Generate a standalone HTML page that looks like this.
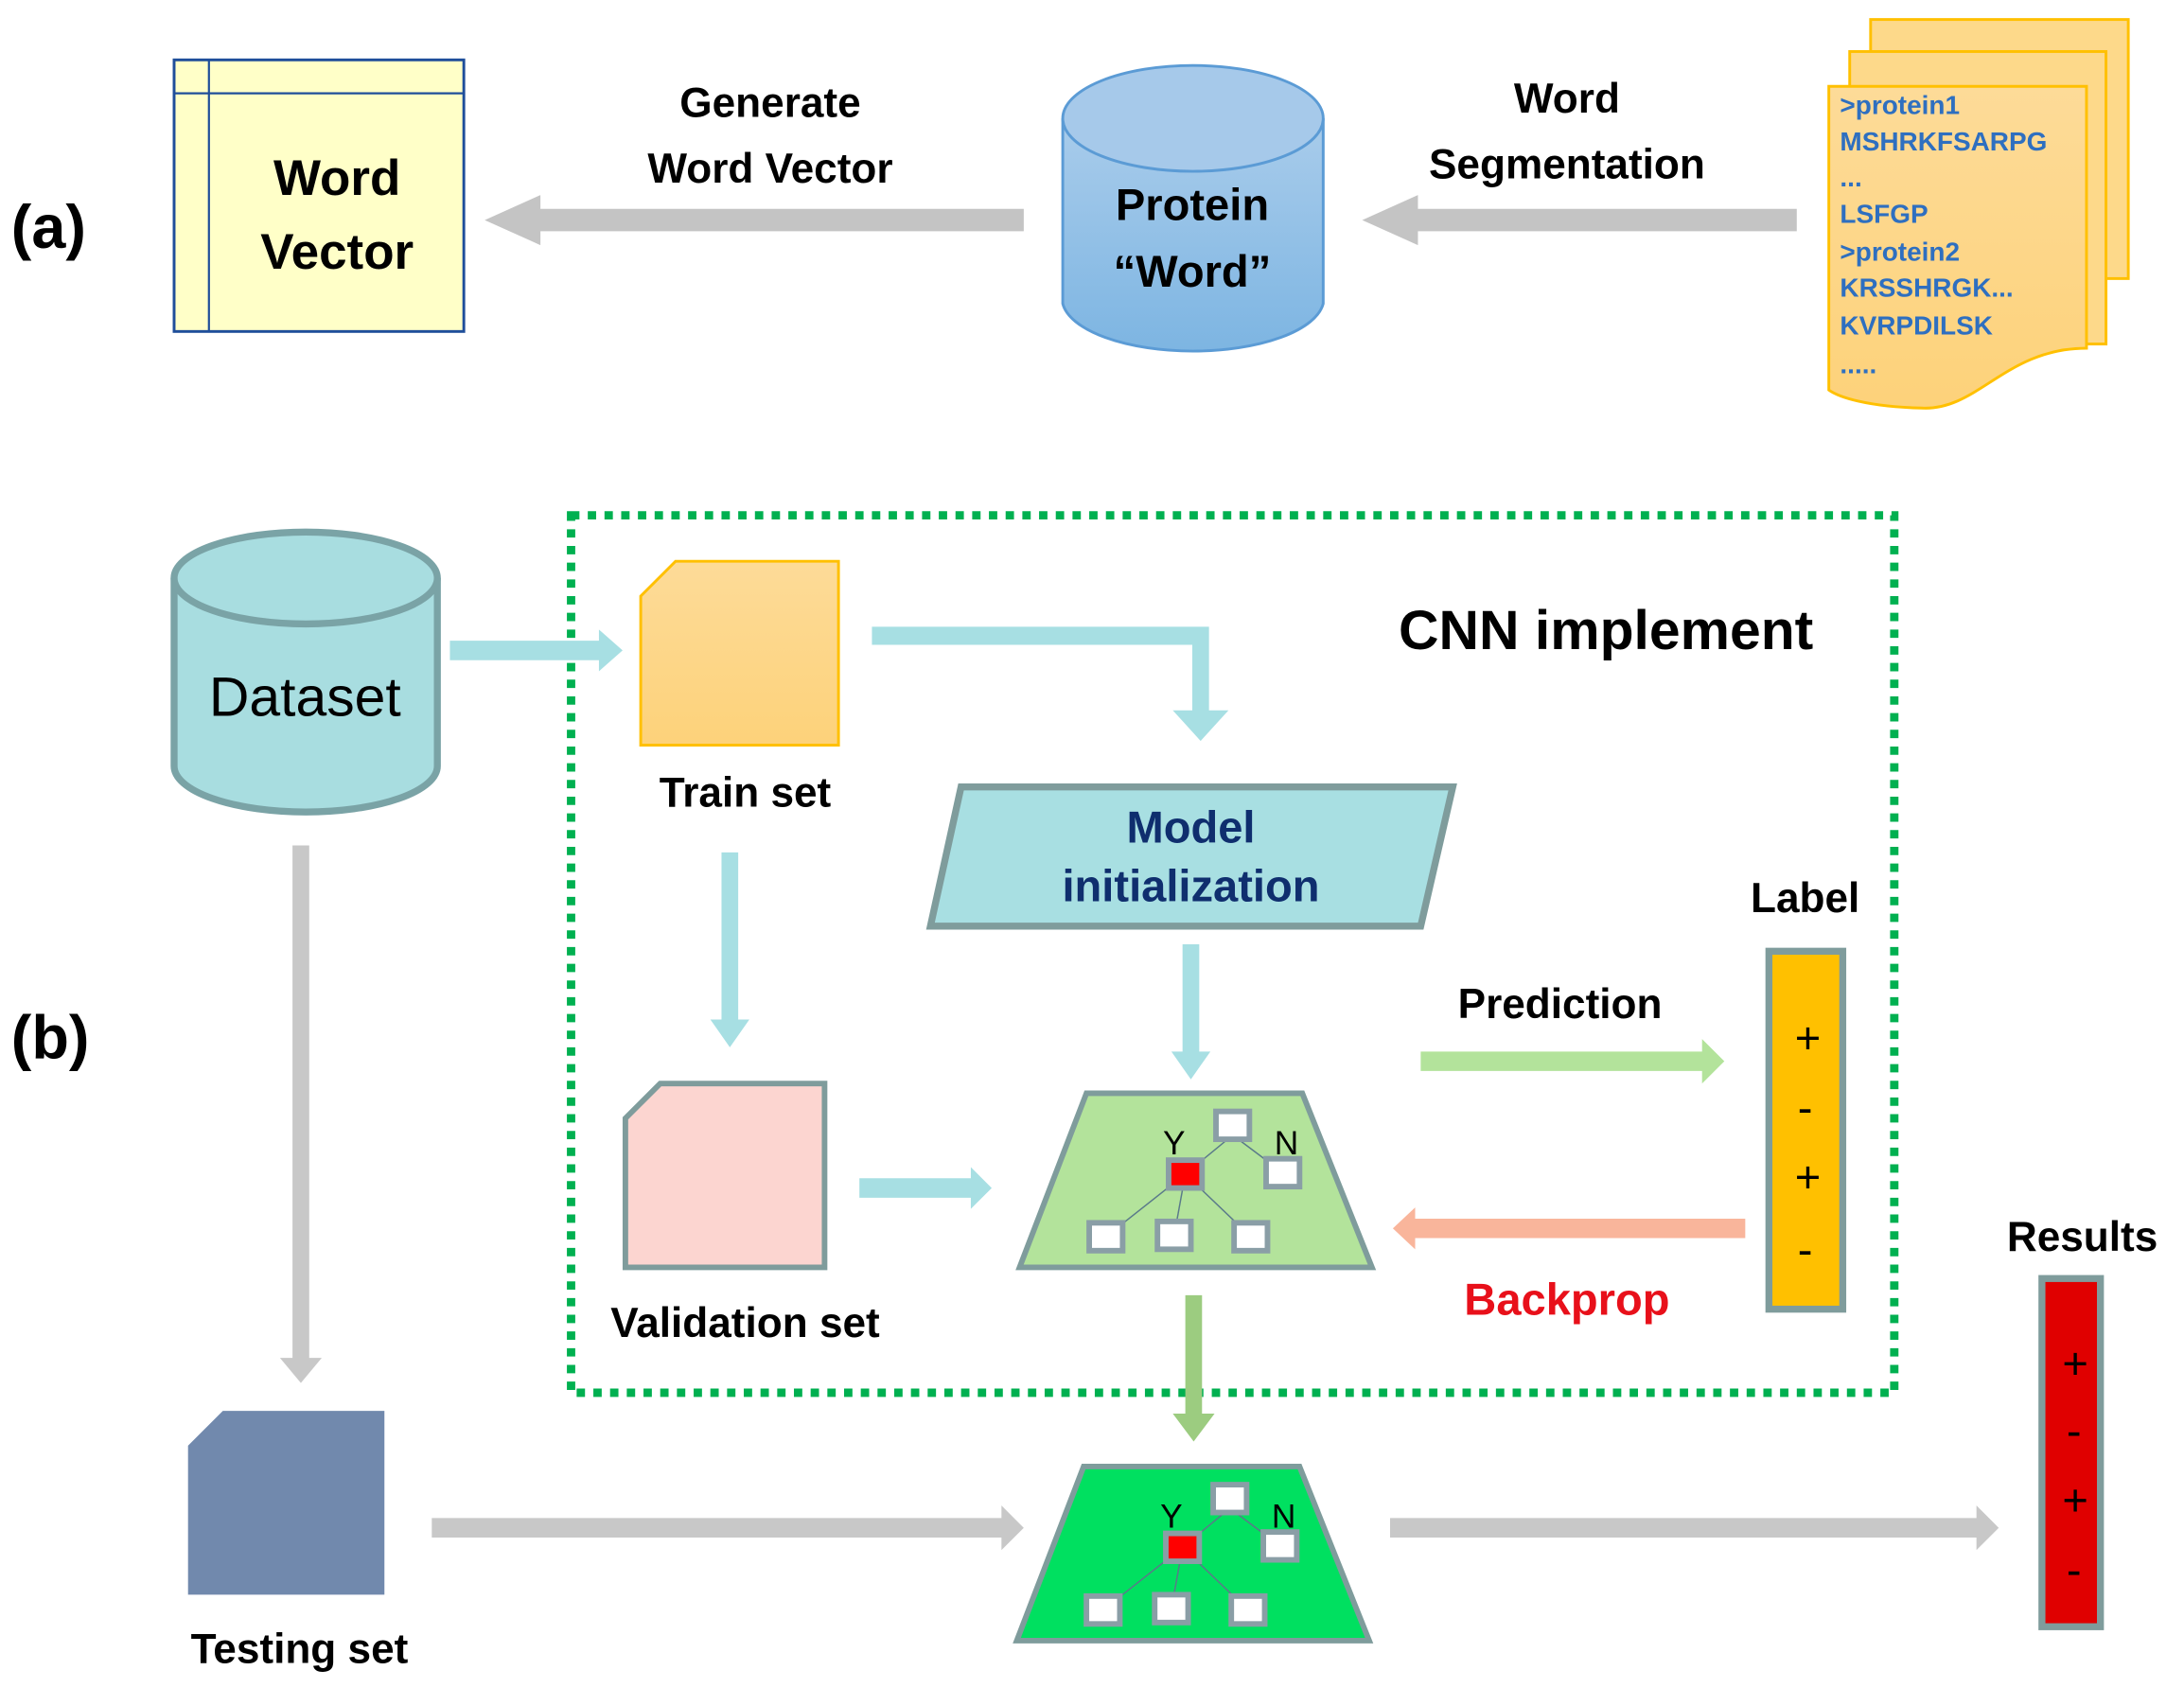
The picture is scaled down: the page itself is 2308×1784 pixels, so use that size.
<!DOCTYPE html>
<html><head><meta charset="utf-8"><style>html,body{margin:0;padding:0;background:#fff}svg{display:block}</style></head>
<body>
<svg width="2308" height="1784" viewBox="0 0 1568 1212" preserveAspectRatio="none" xmlns="http://www.w3.org/2000/svg" font-family="Liberation Sans, sans-serif">
<defs>
<linearGradient id="cyl" x1="0" y1="0" x2="0" y2="1"><stop offset="0" stop-color="#a9cceb"/><stop offset="1" stop-color="#7db5e2"/></linearGradient>
<linearGradient id="org" x1="0" y1="0" x2="0" y2="1"><stop offset="0" stop-color="#fddb98"/><stop offset="1" stop-color="#fdd27a"/></linearGradient>
</defs>
<!-- (a) -->
<text x="8" y="178" font-size="44" font-weight="bold">(a)</text>
<rect x="125" y="43" width="208" height="195" fill="#ffffc8" stroke="#1f4e9a" stroke-width="2"/>
<line x1="150" y1="43" x2="150" y2="238" stroke="#1f4e9a" stroke-width="1.5"/>
<line x1="125" y1="67" x2="333" y2="67" stroke="#1f4e9a" stroke-width="1.5"/>
<text x="242" y="140" font-size="36" font-weight="bold" text-anchor="middle">Word</text>
<text x="242" y="193" font-size="36" font-weight="bold" text-anchor="middle">Vector</text>
<polygon points="735,150 388,150 388,140 348,158 388,176 388,166 735,166" fill="#c4c4c4"/>
<text x="553" y="84" font-size="30" font-weight="bold" text-anchor="middle">Generate</text>
<text x="553" y="131" font-size="30" font-weight="bold" text-anchor="middle">Word  Vector</text>
<path d="M763,85 L763,218 A94,38 0 0 0 950,218 L950,85" fill="url(#cyl)" stroke="#5b9bd5" stroke-width="2"/>
<ellipse cx="856.5" cy="85" rx="93.5" ry="38" fill="#a6c9ea" stroke="#5b9bd5" stroke-width="2"/>
<text x="856" y="158" font-size="32" font-weight="bold" text-anchor="middle">Protein</text>
<text x="856" y="206" font-size="32" font-weight="bold" text-anchor="middle">“Word”</text>
<polygon points="1290,150 1018,150 1018,140 978,158 1018,176 1018,166 1290,166" fill="#c4c4c4"/>
<text x="1125" y="81" font-size="30" font-weight="bold" text-anchor="middle">Word</text>
<text x="1125" y="128" font-size="30" font-weight="bold" text-anchor="middle">Segmentation</text>
<rect x="1343" y="14" width="185" height="186" fill="#fdd98a" stroke="#ffc000" stroke-width="2"/>
<rect x="1328" y="37" width="184" height="210" fill="#fdd98a" stroke="#ffc000" stroke-width="2"/>
<path d="M1313,62 L1498,62 L1498,250 C1440,250 1420,295 1380,293 C1340,292 1320,285 1313,280 Z" fill="url(#org)" stroke="#ffc000" stroke-width="2"/>
<g font-size="19" font-weight="bold" fill="#2e6fc0">
<text x="1321" y="82">&gt;protein1</text>
<text x="1321" y="108">MSHRKFSARPG</text>
<text x="1321" y="134">...</text>
<text x="1321" y="160">LSFGP</text>
<text x="1321" y="187">&gt;protein2</text>
<text x="1321" y="213">KRSSHRGK...</text>
<text x="1321" y="240">KVRPDILSK</text>
<text x="1321" y="268">.....</text>
</g>
<!-- (b) -->
<text x="8" y="760" font-size="44" font-weight="bold">(b)</text>
<path d="M125,415 L125,550 A94.5,33 0 0 0 314,550 L314,415" fill="#a8dde0" stroke="#7aa3a6" stroke-width="5"/>
<ellipse cx="219.5" cy="415" rx="94.5" ry="33" fill="#a8dde0" stroke="#7aa3a6" stroke-width="5"/>
<text x="219" y="514" font-size="40" text-anchor="middle">Dataset</text>
<rect x="410" y="370" width="950" height="630" fill="none" stroke="#00b050" stroke-width="6" stroke-dasharray="6,6"/>
<text x="1153" y="466" font-size="40" font-weight="bold" text-anchor="middle">CNN implement</text>
<polygon points="323,460 430,460 430,452 447,467 430,482 430,474 323,474" fill="#a7dfe3"/>
<path d="M460,428 L485,403 L602,403 L602,535 L460,535 Z" fill="url(#org)" stroke="#ffc000" stroke-width="2"/>
<text x="535" y="579" font-size="30" font-weight="bold" text-anchor="middle">Train set</text>
<polygon points="626,450 868,450 868,510 882,510 862,532 842,510 856,510 856,463 626,463" fill="#a7dfe3"/>
<polygon points="690,565 1043,565 1020,665 668,665" fill="#a8dfe2" stroke="#7f9c9c" stroke-width="5"/>
<text x="855" y="605" font-size="32" font-weight="bold" fill="#0f2e6e" text-anchor="middle">Model</text>
<text x="855" y="647" font-size="32" font-weight="bold" fill="#0f2e6e" text-anchor="middle">initialization</text>
<polygon points="849,678 861,678 861,755 869,755 855,775 841,755 849,755" fill="#a7dfe3"/>
<polygon points="518,612 530,612 530,732 538,732 524,752 510,732 518,732" fill="#a7dfe3"/>
<path d="M449,803 L474,778 L592,778 L592,910 L449,910 Z" fill="#fcd5d0" stroke="#7f9c9c" stroke-width="4"/>
<text x="535" y="960" font-size="30" font-weight="bold" text-anchor="middle">Validation set</text>
<polygon points="617,846 697,846 697,838 712,853 697,868 697,860 617,860" fill="#a7dfe3"/>
<g id="tree1">
<polygon points="780,785 935,785 985,910 732,910" fill="#b3e39b" stroke="#7f9c9c" stroke-width="4"/>
<g stroke="#5a7a8a" stroke-width="1"><line x1="885" y1="815" x2="851" y2="843"/><line x1="885" y1="815" x2="921" y2="842"/><line x1="851" y1="843" x2="794" y2="888"/><line x1="851" y1="843" x2="843" y2="887"/><line x1="851" y1="843" x2="898" y2="888"/></g>
<g fill="#fff" stroke="#8a9ea6" stroke-width="4"><rect x="873" y="798" width="24" height="20"/><rect x="909" y="832" width="24" height="20"/><rect x="782" y="878" width="24" height="20"/><rect x="831" y="877" width="24" height="20"/><rect x="886" y="878" width="24" height="20"/></g>
<rect x="839" y="833" width="24" height="20" fill="#f00" stroke="#8a9ea6" stroke-width="4"/>
<text x="835" y="829" font-size="24">Y</text><text x="915" y="829" font-size="24">N</text>
</g>
<polygon points="1020,755 1222,755 1222,746 1238,762 1222,778 1222,769 1020,769" fill="#b3e39b"/>
<text x="1120" y="731" font-size="30" font-weight="bold" text-anchor="middle">Prediction</text>
<polygon points="1253,875 1016,875 1016,867 1000,882 1016,897 1016,889 1253,889" fill="#f9b59b"/>
<text x="1125" y="944" font-size="32" font-weight="bold" fill="#e8101a" text-anchor="middle">Backprop</text>
<rect x="1270" y="683" width="53" height="257" fill="#ffc000" stroke="#7f9c9c" stroke-width="5"/>
<text x="1296" y="655" font-size="30" font-weight="bold" text-anchor="middle">Label</text>
<g font-size="32" text-anchor="middle"><text x="1298" y="756">+</text><text x="1296" y="806">-</text><text x="1298" y="856">+</text><text x="1296" y="908">-</text></g>
<polygon points="851,930 863,930 863,1015 872,1015 857,1035 842,1015 851,1015" fill="#9ccc80"/>
<polygon points="210,607 222,607 222,975 231,975 216,993 201,975 210,975" fill="#c8c8c8"/>
<path d="M135,1038 L160,1013 L276,1013 L276,1145 L135,1145 Z" fill="#7189ad"/>
<text x="215" y="1194" font-size="30" font-weight="bold" text-anchor="middle">Testing set</text>
<polygon points="310,1090 719,1090 719,1081 735,1097 719,1113 719,1104 310,1104" fill="#c8c8c8"/>
<g transform="translate(-2,268)">
<polygon points="780,785 935,785 985,910 732,910" fill="#00e060" stroke="#7f9c9c" stroke-width="4"/>
<g stroke="#5a7a8a" stroke-width="1"><line x1="885" y1="815" x2="851" y2="843"/><line x1="885" y1="815" x2="921" y2="842"/><line x1="851" y1="843" x2="794" y2="888"/><line x1="851" y1="843" x2="843" y2="887"/><line x1="851" y1="843" x2="898" y2="888"/></g>
<g fill="#fff" stroke="#8a9ea6" stroke-width="4"><rect x="873" y="798" width="24" height="20"/><rect x="909" y="832" width="24" height="20"/><rect x="782" y="878" width="24" height="20"/><rect x="831" y="877" width="24" height="20"/><rect x="886" y="878" width="24" height="20"/></g>
<rect x="839" y="833" width="24" height="20" fill="#f00" stroke="#8a9ea6" stroke-width="4"/>
<text x="835" y="829" font-size="24">Y</text><text x="915" y="829" font-size="24">N</text>
</g>
<polygon points="998,1090 1419,1090 1419,1081 1435,1097 1419,1113 1419,1104 998,1104" fill="#c8c8c8"/>
<rect x="1466" y="918" width="42" height="250" fill="#e00000" stroke="#7f9c9c" stroke-width="5"/>
<text x="1495" y="898" font-size="30" font-weight="bold" text-anchor="middle">Results</text>
<g font-size="32" text-anchor="middle"><text x="1490" y="990">+</text><text x="1489" y="1038">-</text><text x="1490" y="1088">+</text><text x="1489" y="1138">-</text></g>
</svg>
</body></html>
